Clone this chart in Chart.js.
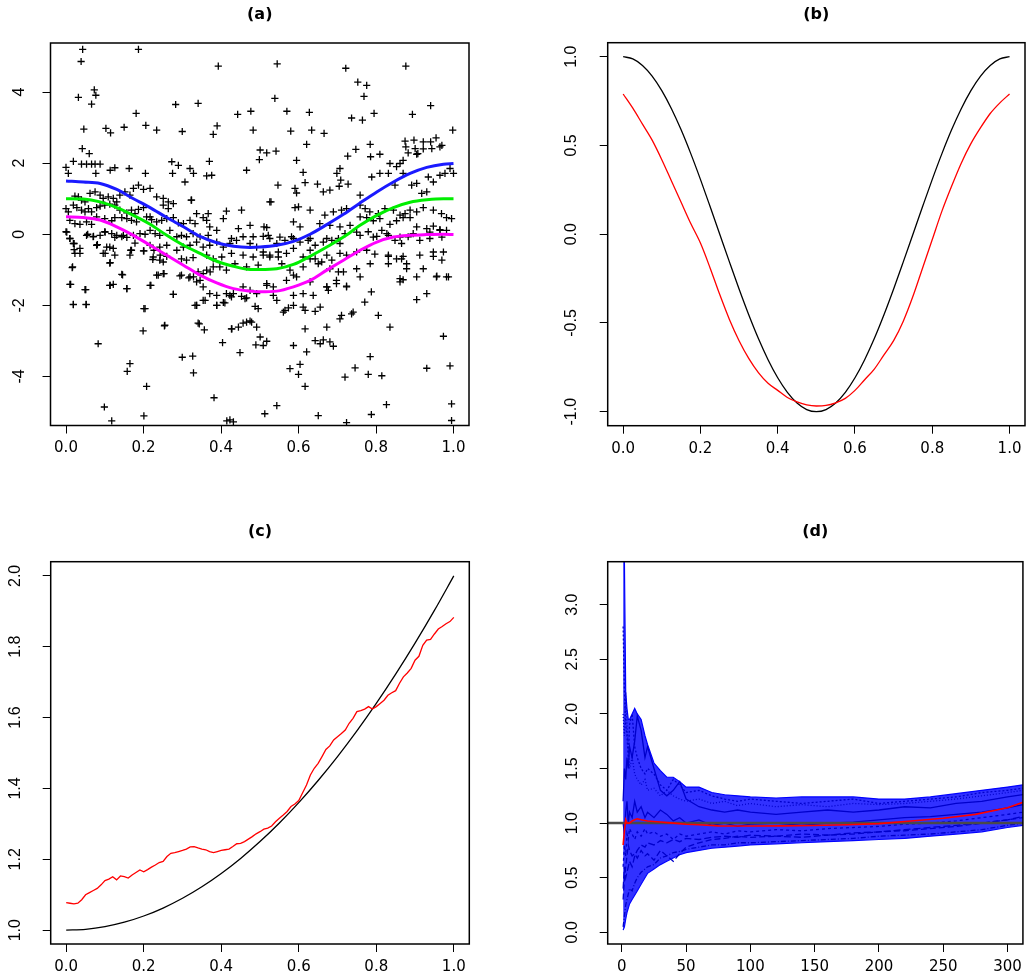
<!DOCTYPE html>
<html>
<head>
<meta charset="utf-8">
<script src="https://cdn.jsdelivr.net/npm/chart.js@4.4.1/dist/chart.umd.min.js"></script>
<style>
html, body { margin: 0; padding: 0; background: #fff; }
#wrap { position: relative; width: 1028px; height: 979px; overflow: hidden; }
canvas { position: absolute; }
</style>
</head>
<body>
<div id="wrap">
  <canvas id="pa" width="514" height="490" style="left:0;top:0;width:514px;height:490px"></canvas>
  <canvas id="pb" width="514" height="490" style="left:514px;top:0;width:514px;height:490px"></canvas>
  <canvas id="pc" width="514" height="489" style="left:0;top:490px;width:514px;height:489px"></canvas>
  <canvas id="pd" width="514" height="489" style="left:514px;top:490px;width:514px;height:489px"></canvas>
</div>
<script>
// ---- tick values ----
const unitTicks = [0, 0.2, 0.4, 0.6, 0.8, 1.0];
const aYTicks = [-4, -2, 0, 2, 4];
const bYTicks = [-1.0, -0.5, 0.0, 0.5, 1.0];
const cYTicks = [1.0, 1.2, 1.4, 1.6, 1.8, 2.0];
const dXTicks = [0, 50, 100, 150, 200, 250, 300];
const dYTicks = [0.0, 0.5, 1.0, 1.5, 2.0, 2.5, 3.0];

// ---- panel (a): observations (x, y) ----
const aPoints = [
  [0.043,5.20],[0.039,4.86],[0.187,5.20],[0.393,4.73],[0.073,4.06],[0.077,3.91],[0.032,3.85],[0.066,3.66],
  [0.181,3.40],[0.283,3.65],[0.341,3.68],[0.443,3.37],[0.477,3.46],[0.046,2.96],[0.103,2.98],[0.115,2.85],
  [0.150,3.01],[0.206,3.06],[0.234,2.93],[0.300,2.89],[0.390,3.05],[0.380,2.81],[0.483,2.93],[0.042,2.41],
  [0.060,2.27],[0.0,1.88],[0.019,2.05],[0.040,1.97],[0.053,1.97],[0.066,1.97],[0.075,1.97],[0.088,1.97],
  [0.006,1.71],[0.077,1.71],[0.114,1.80],[0.126,1.87],[0.163,1.85],[0.205,1.71],[0.273,2.04],[0.290,1.94],
  [0.275,1.71],[0.370,2.05],[0.320,1.85],[0.329,1.71],[0.363,1.64],[0.376,1.66],[0.307,1.47],[0.323,0.96],
  [0.466,1.80],[0.499,2.10],
  [0.023,1.07],[0.032,1.05],[0.040,0.96],[0.049,0.91],[0.062,1.15],[0.075,1.19],[0.088,1.10],[0.096,1.01],
  [0.109,1.05],[0.122,1.01],[0.131,0.91],[0.139,1.10],[0.152,1.19],[0.165,1.10],[0.174,1.29],[0.187,1.38],
  [0.200,1.26],[0.217,1.29],[0.0,0.72],[0.006,0.63],[0.019,0.82],[0.028,0.75],[0.040,0.68],[0.049,0.63],
  [0.058,0.72],[0.066,0.63],[0.079,0.75],[0.088,0.79],[0.100,0.82],[0.113,0.85],[0.126,0.82],[0.139,0.68],
  [0.157,0.60],[0.169,0.68],[0.178,0.58],[0.187,0.70],[0.200,0.75],[0.217,0.49],[0.234,1.05],[0.251,1.01],
  [0.264,0.91],[0.277,0.86],[0.251,0.82],[0.264,0.72],[0.324,0.96],[0.367,0.58],[0.337,0.58],[0.414,0.65],
  [0.453,0.68],[0.406,0.44],[0.445,0.16],[0.475,0.25],[0.483,-0.07],[0.457,-0.07],[0.427,-0.12],[0.010,0.39],
  [0.023,0.30],[0.036,0.28],[0.053,0.35],[0.066,0.28],[0.079,0.49],[0.100,0.44],[0.118,0.38],[0.126,0.47],
  [0.144,0.47],[0.157,0.44],[0.169,0.39],[0.182,0.35],[0.208,0.49],[0.221,0.41],[0.234,0.35],[0.247,0.39],
  [0.260,0.44],[0.277,0.47],[0.290,0.32],[0.303,0.30],[0.320,0.39],[0.333,0.30],[0.354,0.47],[0.363,0.39],
  [0.371,0.21],[0.389,0.11],[0.0,0.07],[0.010,-0.12],[0.053,-0.03],[0.070,-0.07],[0.088,-0.03],[0.100,0.07],
  [0.118,0.02],[0.131,-0.03],[0.144,-0.07],[0.157,-0.09],[0.174,-0.03],[0.191,0.02],[0.217,0.11],[0.230,0.02],
  [0.242,-0.03],[0.268,0.11],[0.286,-0.07],[0.298,-0.03],[0.311,-0.07],[0.328,0.02],[0.346,-0.07],[0.367,-0.03],
  [0.019,-0.26],[0.036,-0.40],[0.079,-0.31],[0.113,-0.36],[0.122,-0.40],[0.169,-0.45],[0.200,-0.47],[0.217,-0.31],
  [0.242,-0.36],[0.260,-0.31],[0.286,-0.45],[0.303,-0.36],[0.320,-0.31],[0.337,-0.22],[0.354,-0.36],[0.371,-0.31],
  [0.389,-0.22],[0.406,-0.36],[0.423,-0.26],[0.440,-0.17],[0.475,-0.26],[0.492,-0.36],[0.023,-0.54],[0.096,-0.54],
  [0.165,-0.59],[0.225,-0.64],[0.242,-0.73],[0.260,-0.62],[0.298,-0.69],[0.311,-0.73],[0.328,-0.66],[0.363,-0.59],
  [0.380,-0.69],[0.402,-0.64],[0.427,-0.54],[0.457,-0.59],[0.483,-0.64],[0.113,-0.81],[0.298,-1.15],[0.320,-1.20],
  [0.341,-1.06],[0.363,-1.01],[0.380,-0.92],[0.397,-0.92],[0.414,-1.01],[0.436,-0.83],[0.466,-0.92],[0.496,-0.87],
  [0.017,-0.92],[0.144,-1.13],[0.238,-1.15],[0.251,-1.11],[0.012,-1.41],[0.049,-1.56],[0.113,-1.44],[0.157,-1.53],
  [0.217,-1.44],[0.277,-1.69],[0.354,-1.48],[0.371,-1.67],[0.389,-1.72],[0.414,-1.67],[0.427,-1.76],[0.457,-1.48],
  [0.475,-1.58],[0.492,-1.67],[0.019,-1.97],[0.052,-1.97],[0.204,-2.09],[0.337,-2.00],[0.359,-1.86],[0.389,-2.00],
  [0.410,-1.93],[0.453,-1.75],[0.488,-2.03],[0.255,-2.56],[0.341,-2.50],[0.427,-2.66],[0.457,-2.50],[0.475,-2.44],
  [0.545,4.79],[0.722,4.67],[0.877,4.73],[0.753,4.28],[0.776,4.19],[0.539,3.82],[0.769,3.88],[0.941,3.62],
  [0.570,3.46],[0.628,3.43],[0.737,3.27],[0.765,3.21],[0.795,3.40],[0.894,3.37],[0.580,2.90],[0.634,2.93],
  [0.666,2.84],[0.998,2.93],[0.621,2.53],[0.501,2.37],[0.518,2.29],[0.542,2.34],[0.748,2.39],[0.785,2.53],
  [0.727,2.20],[0.786,2.18],[0.810,2.25],[0.595,2.08],[0.875,2.62],[0.898,2.65],[0.922,2.60],[0.941,2.60],
  [0.955,2.71],[0.970,2.50],[0.877,2.46],[0.901,2.41],[0.908,2.27],[0.922,2.40],[0.944,2.41],[0.965,2.46],
  [0.883,2.29],[0.905,2.25],[0.612,1.74],[0.699,1.71],[0.707,1.85],[0.547,1.38],[0.591,1.29],[0.595,1.16],
  [0.617,1.45],[0.649,1.41],[0.664,1.19],[0.681,1.24],[0.705,1.35],[0.709,1.52],[0.728,1.41],[0.759,1.10],
  [0.789,1.61],[0.810,1.71],[0.832,1.71],[0.836,1.99],[0.853,1.90],[0.862,1.99],[0.870,2.08],[0.849,1.38],
  [0.870,1.71],[0.892,1.38],[0.905,1.43],[0.918,1.15],[0.931,1.19],[0.935,1.61],[0.948,1.47],[0.965,1.66],
  [0.978,1.71],[0.991,1.85],[1.0,1.71],[0.529,0.91],[0.511,0.21],
  [0.526,0.91],[0.591,0.75],[0.600,0.77],[0.630,0.68],[0.668,0.54],[0.690,0.63],[0.711,0.68],[0.724,0.72],
  [0.759,0.82],[0.772,0.72],[0.784,0.63],[0.806,0.58],[0.823,0.72],[0.845,0.68],[0.862,0.54],[0.875,0.58],
  [0.888,0.68],[0.905,0.63],[0.922,0.75],[0.948,0.68],[0.969,0.58],[0.982,0.47],[0.995,0.44],[0.518,0.19],
  [0.587,0.35],[0.604,0.21],[0.655,0.30],[0.681,0.25],[0.707,0.21],[0.733,0.25],[0.759,0.49],[0.776,0.47],
  [0.793,0.38],[0.810,0.44],[0.836,0.28],[0.853,0.38],[0.870,0.47],[0.888,0.47],[0.905,0.21],[0.931,0.16],
  [0.948,0.23],[0.965,0.13],[0.982,0.11],
  [0.509,-0.06],[0.526,-0.12],[0.544,-0.26],[0.565,-0.17],[0.582,-0.07],[0.604,-0.22],[0.625,-0.17],[0.643,-0.31],
  [0.664,-0.22],[0.686,-0.17],[0.703,-0.12],[0.720,0.02],[0.759,-0.03],[0.780,0.07],[0.802,-0.06],[0.815,0.11],
  [0.832,-0.03],[0.849,-0.17],[0.866,-0.26],[0.883,-0.07],[0.913,-0.17],[0.939,-0.12],[0.965,0.11],[0.509,-0.50],
  [0.526,-0.59],[0.548,-0.64],[0.557,-0.83],[0.578,-1.01],[0.587,-1.15],[0.612,-0.92],[0.630,-0.69],[0.651,-0.83],
  [0.673,-0.59],[0.686,-0.73],[0.707,-0.54],[0.724,-0.59],[0.750,-0.50],[0.776,-0.45],[0.797,-0.56],[0.832,-0.62],
  [0.866,-0.69],[0.879,-0.97],[0.913,-0.59],[0.948,-0.50],[0.518,-1.39],[0.535,-1.48],[0.569,-1.30],[0.595,-1.20],
  [0.630,-1.34],[0.673,-1.48],[0.698,-1.30],[0.724,-1.46],[0.759,-1.20],[0.905,-1.20],[0.956,-1.20],[0.982,-1.20],
  [0.862,-1.34],
  [0.002,0.06],[0.056,0.0],[0.071,-0.06],[0.101,0.06],[0.126,-0.09],[0.148,-0.03],[0.178,-0.25],[0.204,0.0],
  [0.010,-0.12],[0.021,-0.26],[0.036,-0.54],[0.021,-0.43],[0.081,-0.29],[0.105,-0.36],[0.126,-0.59],[0.114,-0.80],
  [0.101,-0.54],[0.016,-0.94],[0.010,-1.41],[0.051,-1.56],[0.019,-1.98],[0.052,-1.98],[0.114,-1.44],[0.122,-1.41],
  [0.157,-1.53],[0.146,-1.14],[0.219,-1.44],[0.167,-0.45],[0.201,-0.47],[0.224,-0.71],[0.227,-0.45],[0.243,-0.59],
  [0.251,-0.78],[0.234,-1.15],[0.253,-1.11],[0.294,-1.17],[0.317,-1.23],[0.329,-1.20],[0.337,-1.34],[0.346,-1.30],
  [0.354,-1.11],[0.372,-1.06],[0.277,-1.69],[0.333,-2.00],[0.337,-2.00],[0.354,-1.86],[0.389,-2.00],[0.406,-1.92],
  [0.423,-1.72],[0.432,-1.67],[0.462,-1.81],[0.466,-1.79],[0.201,-2.09],[0.199,-2.72],[0.254,-2.58],[0.083,-3.08],
  [0.344,-2.52],[0.357,-2.69],[0.428,-2.66],[0.445,-2.61],[0.466,-2.47],[0.479,-2.47],[0.404,-3.05],[0.449,-3.33],
  [0.490,-3.11],[0.496,-2.09],[0.492,-2.61],[0.300,-3.46],[0.327,-3.43],[0.329,-3.90],[0.165,-3.64],[0.158,-3.86],
  [0.208,-4.28],[0.382,-4.60],[0.099,-4.86],[0.201,-5.11],[0.118,-5.25],[0.415,-5.25],[0.432,-5.28],[0.423,-5.22],
  [0.522,-0.03],[0.552,-0.08],[0.587,-0.12],[0.630,-0.12],[0.673,-0.12],[0.707,-0.26],[0.750,0.06],[0.793,-0.08],
  [0.828,0.02],[0.862,-0.08],[0.896,0.02],[0.939,0.06],[0.970,-0.08],[0.509,-0.59],[0.526,-0.64],[0.548,-0.50],
  [0.569,-0.54],[0.587,-0.40],[0.612,-0.64],[0.630,-0.45],[0.643,-0.69],[0.660,-0.78],[0.681,-0.97],[0.703,-1.06],
  [0.716,-1.06],[0.750,-0.97],[0.785,-0.83],[0.832,-0.59],[0.832,-0.83],[0.853,-0.69],[0.870,-0.62],[0.879,-0.83],
  [0.922,-0.97],[0.948,-0.62],[0.970,-0.73],[0.974,-0.50],[0.870,-1.28],[0.862,-1.25],[0.957,-1.18],[0.987,-1.20],
  [0.518,-1.44],[0.535,-1.72],[0.544,-1.86],[0.565,-2.14],[0.561,-2.19],[0.574,-2.07],[0.587,-1.72],[0.612,-2.05],
  [0.617,-2.14],[0.643,-2.17],[0.656,-2.05],[0.673,-1.48],[0.677,-1.58],[0.698,-1.39],[0.724,-1.48],[0.788,-1.62],
  [0.771,-1.91],[0.741,-2.19],[0.737,-2.24],[0.707,-2.38],[0.711,-2.28],[0.617,-2.66],[0.673,-2.61],[0.806,-2.28],
  [0.836,-2.61],[0.905,-1.84],[0.931,-1.67],[0.612,-1.67],[0.638,-1.72],[0.587,-2.00],[0.643,-2.99],[0.656,-3.08],
  [0.664,-2.97],[0.681,-3.03],[0.690,-3.15],[0.587,-3.13],[0.621,-3.31],[0.501,-2.89],[0.518,-3.01],[0.509,-3.13],
  [0.785,-3.44],[0.974,-2.87],[0.578,-3.78],[0.604,-3.66],[0.600,-3.94],[0.617,-4.28],[0.720,-4.02],[0.746,-3.76],
  [0.780,-3.94],[0.815,-3.98],[0.931,-3.77],[0.991,-3.70],[0.827,-4.79],[0.544,-4.82],[0.513,-5.05],[0.651,-5.10],
  [0.788,-5.07],[0.995,-4.77],[0.995,-5.24],[0.724,-5.30]
];

// ---- panel (a): fitted curves ----
const aCurveX = [0, 0.045, 0.088, 0.131, 0.174, 0.217, 0.26, 0.303, 0.346, 0.389, 0.432, 0.475, 0.501,
                 0.544, 0.587, 0.630, 0.673, 0.716, 0.759, 0.802, 0.845, 0.888, 0.931, 0.974, 1.0];
const aBlue    = [1.50, 1.47, 1.43, 1.26, 1.00, 0.75, 0.47, 0.21, -0.06, -0.24, -0.34, -0.37, -0.36,
                  -0.31, -0.20, 0.00, 0.27, 0.56, 0.88, 1.19, 1.47, 1.71, 1.88, 1.97, 1.99];
const aGreen   = [1.00, 0.99, 0.91, 0.75, 0.53, 0.28, -0.03, -0.31, -0.54, -0.76, -0.90, -0.99, -0.99,
                  -0.97, -0.85, -0.62, -0.36, -0.08, 0.25, 0.53, 0.75, 0.90, 0.97, 1.00, 1.00];
const aMagenta = [0.49, 0.47, 0.40, 0.21, -0.03, -0.31, -0.59, -0.87, -1.15, -1.37, -1.53, -1.60, -1.62,
                  -1.60, -1.48, -1.30, -1.01, -0.73, -0.45, -0.22, -0.08, -0.03, -0.01, 0.00, -0.01];

// ---- panel (b) ----
const bX = [0, 0.025, 0.05, 0.075, 0.1, 0.125, 0.15, 0.175, 0.2, 0.225, 0.25, 0.275, 0.3, 0.325, 0.35,
            0.375, 0.4, 0.425, 0.45, 0.475, 0.5, 0.525, 0.55, 0.575, 0.6, 0.625, 0.65, 0.675, 0.7,
            0.725, 0.75, 0.775, 0.8, 0.825, 0.85, 0.875, 0.9, 0.925, 0.95, 0.975, 1.0];
const bTrue = [1.000, 0.988, 0.951, 0.891, 0.809, 0.707, 0.588, 0.454, 0.309, 0.156, 0.000, -0.156,
               -0.309, -0.454, -0.588, -0.707, -0.809, -0.891, -0.951, -0.988, -1.000, -0.988, -0.951,
               -0.891, -0.809, -0.707, -0.588, -0.454, -0.309, -0.156, 0.000, 0.156, 0.309, 0.454,
               0.588, 0.707, 0.809, 0.891, 0.951, 0.988, 1.000];
const bEst = [0.79, 0.71, 0.62, 0.53, 0.42, 0.30, 0.18, 0.06, -0.05, -0.19, -0.34, -0.48, -0.60,
              -0.70, -0.78, -0.84, -0.88, -0.92, -0.945, -0.962, -0.968, -0.965, -0.95, -0.925,
              -0.88, -0.82, -0.76, -0.68, -0.60, -0.49, -0.35, -0.19, -0.03, 0.13, 0.27, 0.40,
              0.51, 0.60, 0.68, 0.74, 0.79];

// ---- panel (c) ----
const cTrueX = [0, 0.05, 0.1, 0.15, 0.2, 0.25, 0.3, 0.35, 0.4, 0.45, 0.5, 0.55, 0.6, 0.65, 0.7,
                0.75, 0.8, 0.85, 0.9, 0.95, 1.0];
const cTrue = [1.000, 1.0025, 1.010, 1.0225, 1.040, 1.0625, 1.090, 1.1225, 1.160, 1.2025, 1.250,
               1.3025, 1.360, 1.4225, 1.490, 1.5625, 1.640, 1.7225, 1.810, 1.9025, 2.000];
const cEstX = [0, 0.01, 0.02, 0.03, 0.04, 0.05, 0.06, 0.07, 0.08, 0.09, 0.1, 0.11, 0.12, 0.13, 0.14,
               0.15, 0.16, 0.17, 0.18, 0.19, 0.2, 0.21, 0.22, 0.23, 0.24, 0.25, 0.26, 0.27, 0.28, 0.29,
               0.3, 0.31, 0.32, 0.33, 0.34, 0.35, 0.36, 0.37, 0.38, 0.39, 0.4, 0.41, 0.42, 0.43, 0.44,
               0.45, 0.46, 0.47, 0.48, 0.49, 0.5, 0.51, 0.52, 0.53, 0.54, 0.55, 0.56, 0.57, 0.58, 0.59,
               0.6, 0.61, 0.62, 0.63, 0.64, 0.65, 0.66, 0.67, 0.68, 0.69, 0.7, 0.71, 0.72, 0.73, 0.74,
               0.75, 0.76, 0.77, 0.78, 0.79, 0.8, 0.81, 0.82, 0.83, 0.84, 0.85, 0.86, 0.87, 0.88, 0.89,
               0.9, 0.91, 0.92, 0.93, 0.94, 0.95, 0.96, 0.97, 0.98, 0.99, 1.0];
const cEst = [1.078, 1.076, 1.074, 1.076, 1.086, 1.100, 1.106, 1.112, 1.118, 1.128,
              1.140, 1.144, 1.151, 1.142, 1.153, 1.151, 1.147, 1.156, 1.163, 1.170,
              1.165, 1.171, 1.178, 1.184, 1.191, 1.194, 1.208, 1.217, 1.219, 1.222,
              1.225, 1.229, 1.235, 1.236, 1.232, 1.229, 1.227, 1.222, 1.219, 1.222,
              1.225, 1.227, 1.229, 1.236, 1.244, 1.245, 1.250, 1.257, 1.264, 1.272,
              1.278, 1.285, 1.288, 1.294, 1.306, 1.316, 1.325, 1.335, 1.349, 1.356,
              1.366, 1.388, 1.410, 1.438, 1.457, 1.471, 1.490, 1.510, 1.520, 1.537,
              1.546, 1.555, 1.565, 1.584, 1.598, 1.617, 1.620, 1.624, 1.631, 1.624,
              1.631, 1.640, 1.649, 1.663, 1.670, 1.676, 1.697, 1.715, 1.726, 1.739,
              1.762, 1.773, 1.804, 1.819, 1.821, 1.836, 1.850, 1.857, 1.865, 1.871, 1.883];

// ---- panel (d) ----
const dX = [1, 2, 3, 4, 5, 6, 8, 10, 12, 15, 18, 20, 25, 30, 35, 40, 45, 50, 60, 70, 80, 90, 100,
            120, 140, 160, 180, 200, 220, 240, 260, 280, 300, 312];
const dBandHi = [3.40, 3.40, 2.20, 2.05, 1.95, 1.95, 2.00, 2.05, 2.00, 1.95, 1.80, 1.72, 1.55, 1.48,
                 1.42, 1.42, 1.38, 1.33, 1.33, 1.28, 1.26, 1.25, 1.24, 1.23, 1.24, 1.24, 1.24, 1.22,
                 1.22, 1.24, 1.27, 1.30, 1.33, 1.35];
const dBandLo = [0.02, 0.05, 0.12, 0.18, 0.22, 0.26, 0.30, 0.34, 0.38, 0.44, 0.50, 0.54, 0.58, 0.62,
                 0.65, 0.68, 0.71, 0.73, 0.75, 0.77, 0.78, 0.79, 0.80, 0.81, 0.82, 0.83, 0.84, 0.85,
                 0.86, 0.88, 0.90, 0.92, 0.96, 0.98];
const dRuns = [
  [1.20, 1.50, 1.40, 1.60, 1.50, 1.70, 1.60, 1.75, 1.98, 1.85, 1.60, 1.70, 1.50, 1.30, 1.25, 1.30, 1.38,
   1.22, 1.15, 1.12, 1.10, 1.12, 1.10, 1.08, 1.10, 1.12, 1.10, 1.12, 1.15, 1.14, 1.18, 1.20, 1.24, 1.26],
  [0.30, 0.50, 0.60, 0.70, 0.80, 0.75, 0.70, 0.72, 0.68, 0.75, 0.70, 0.72, 0.66, 0.75, 0.70, 0.65, 0.72,
   0.78, 0.82, 0.85, 0.86, 0.88, 0.87, 0.88, 0.90, 0.89, 0.90, 0.92, 0.93, 0.95, 0.97, 1.00, 1.03, 1.05],
  [2.80, 2.20, 1.90, 1.80, 1.60, 1.90, 2.00, 1.70, 1.60, 1.50, 1.45, 1.50, 1.45, 1.35, 1.30, 1.40, 1.35,
   1.28, 1.30, 1.25, 1.22, 1.20, 1.22, 1.20, 1.18, 1.20, 1.22, 1.18, 1.20, 1.22, 1.24, 1.28, 1.30, 1.32],
  [0.05, 0.15, 0.25, 0.30, 0.35, 0.40, 0.38, 0.45, 0.50, 0.55, 0.58, 0.60, 0.62, 0.68, 0.70, 0.73, 0.74,
   0.76, 0.78, 0.80, 0.80, 0.82, 0.82, 0.83, 0.84, 0.85, 0.86, 0.88, 0.89, 0.90, 0.92, 0.94, 0.98, 1.00],
  [1.00, 0.90, 1.10, 1.20, 1.00, 1.10, 1.05, 1.20, 1.10, 1.15, 1.05, 1.10, 1.05, 1.12, 1.08, 1.02, 1.05,
   1.00, 1.03, 0.98, 1.00, 0.97, 0.99, 1.00, 0.98, 1.00, 1.01, 1.03, 1.05, 1.06, 1.08, 1.10, 1.14, 1.17],
  [0.60, 0.80, 0.70, 0.90, 0.85, 0.95, 0.90, 0.85, 0.92, 0.88, 0.95, 0.90, 0.92, 0.88, 0.90, 0.85, 0.90,
   0.88, 0.90, 0.92, 0.90, 0.93, 0.92, 0.94, 0.93, 0.95, 0.96, 0.97, 0.99, 1.00, 1.02, 1.05, 1.08, 1.10],
  [2.00, 1.80, 2.20, 1.90, 1.70, 1.50, 1.60, 1.45, 1.40, 1.35, 1.40, 1.30, 1.32, 1.25, 1.30, 1.25, 1.22,
   1.20, 1.22, 1.18, 1.20, 1.16, 1.18, 1.15, 1.17, 1.15, 1.18, 1.17, 1.18, 1.20, 1.22, 1.25, 1.28, 1.30],
  [0.40, 0.60, 0.50, 0.55, 0.60, 0.65, 0.60, 0.70, 0.75, 0.80, 0.78, 0.82, 0.80, 0.84, 0.82, 0.85, 0.83,
   0.86, 0.85, 0.87, 0.88, 0.87, 0.89, 0.88, 0.87, 0.89, 0.91, 0.92, 0.94, 0.96, 0.98, 1.00, 1.03, 1.06]
];
const dRunDash = [[], [6, 3], [2, 2], [5, 2, 1, 2], [], [3, 3], [1, 2], [7, 3]];
const dMeanX = [1, 2, 3, 4, 6, 8, 10, 12, 15, 20, 25, 30, 40, 50, 60, 75, 100, 125, 150, 175, 200,
                225, 250, 275, 300, 312];
const dMean = [0.80, 0.93, 1.03, 1.00, 1.00, 1.02, 1.03, 1.04, 1.03, 1.02, 1.015, 1.01, 1.00, 0.99,
               0.985, 0.975, 0.973, 0.975, 0.978, 0.985, 0.995, 1.02, 1.045, 1.08, 1.14, 1.19];
const dRefX = [-11, 312];
const dRef = [1, 1];

function pairs(xs, ys) {
    return xs.map(function (x, i) { return {x: x, y: ys[i]}; });
}

const boxPlugin = {
    id: 'box',
    afterDraw: function (chart) {
        const a = chart.chartArea;
        const ctx = chart.ctx;
        ctx.save();
        ctx.strokeStyle = '#000';
        ctx.lineWidth = 1.5;
        ctx.strokeRect(a.left, a.top, a.right - a.left, a.bottom - a.top);
        ctx.restore();
    }
};

function xAxis(min, max, ticks, height, fmt) {
    return {
        type: 'linear', min: min, max: max,
        afterFit: function (s) { s.height = height; },
        afterBuildTicks: function (s) { s.ticks = ticks.map(function (v) { return {value: v}; }); },
        border: {display: false},
        grid: {drawOnChartArea: false, tickLength: 8, color: '#000', lineWidth: 1},
        ticks: {autoSkip: false, maxRotation: 0, padding: 6, color: '#000',
                font: {family: 'DejaVu Sans', size: 15}, callback: fmt}
    };
}

function yAxis(min, max, ticks, width, pad, fmt) {
    return {
        type: 'linear', min: min, max: max,
        afterFit: function (s) { s.width = width; },
        afterBuildTicks: function (s) { s.ticks = ticks.map(function (v) { return {value: v}; }); },
        border: {display: false},
        grid: {drawOnChartArea: false, tickLength: 8, color: '#000', lineWidth: 1},
        ticks: {autoSkip: false, minRotation: 90, maxRotation: 90, crossAlign: 'center', padding: pad,
                color: '#000', font: {family: "'Liberation Sans Narrow', 'Liberation Sans', Arial", size: 16},
                callback: fmt}
    };
}

const oneDec = function (v) { return Number(v).toFixed(1); };
const plain = function (v) { return String(v); };

function makePanel(id, title, titlePad, rightPad, datasets, scales) {
    return new Chart(document.getElementById(id), {
        type: 'line',
        data: {datasets: datasets},
        options: {
            responsive: false,
            animation: false,
            events: [],
            layout: {padding: {left: 0, top: 0, right: rightPad, bottom: 0}},
            plugins: {
                legend: {display: false},
                tooltip: {enabled: false},
                title: {display: true, text: title, fullSize: false, color: '#000',
                        font: {family: 'DejaVu Sans', size: 16, weight: 'bold'}, padding: titlePad}
            },
            scales: scales
        },
        plugins: [boxPlugin]
    });
}

// (a)
makePanel('pa', '(a)', {top: 5, bottom: 18.8}, 45, [
    {data: pairs(aCurveX, aBlue), borderColor: '#1a1aff', borderWidth: 3, pointRadius: 0,
     cubicInterpolationMode: 'monotone', order: 1},
    {data: pairs(aCurveX, aGreen), borderColor: '#00ee00', borderWidth: 3, pointRadius: 0,
     cubicInterpolationMode: 'monotone', order: 1},
    {data: pairs(aCurveX, aMagenta), borderColor: '#ff00ff', borderWidth: 3, pointRadius: 0,
     cubicInterpolationMode: 'monotone', order: 1},
    {data: aPoints.map(function (p) { return {x: p[0], y: p[1]}; }), showLine: false,
     pointStyle: 'cross', pointRadius: 3.6, pointBorderWidth: 1.3, pointBorderColor: '#000',
     borderColor: '#000', order: 5}
], {
    x: xAxis(-0.04, 1.04, unitTicks, 64.5, oneDec),
    y: yAxis(-5.38, 5.38, aYTicks, 50.5, 15.7, plain)
});

// (b)
makePanel('pb', '(b)', {top: 5, bottom: 18.5}, 3, [
    {data: pairs(bX, bEst), borderColor: '#ff0000', borderWidth: 1.3, pointRadius: 0,
     cubicInterpolationMode: 'monotone', order: 1},
    {data: pairs(bX, bTrue), borderColor: '#000', borderWidth: 1.3, pointRadius: 0,
     cubicInterpolationMode: 'monotone', order: 2}
], {
    x: xAxis(-0.04, 1.04, unitTicks, 64.3, oneDec),
    y: yAxis(-1.079, 1.079, bYTicks, 93.7, 14.2, oneDec)
});

// (c)
makePanel('pc', '(c)', {top: 32.1, bottom: 20.4}, 44.7, [
    {data: pairs(cEstX, cEst), borderColor: '#ff0000', borderWidth: 1.3, pointRadius: 0, order: 1},
    {data: pairs(cTrueX, cTrue), borderColor: '#000', borderWidth: 1.3, pointRadius: 0,
     cubicInterpolationMode: 'monotone', order: 2}
], {
    x: xAxis(-0.04, 1.04, unitTicks, 35, oneDec),
    y: yAxis(0.961, 2.04, cYTicks, 50.7, 15.9, oneDec)
});

// (d)
const dDatasets = [
    {data: pairs(dMeanX, dMean), borderColor: '#ff0000', borderWidth: 1.6, pointRadius: 0, order: 0},
    {data: pairs(dRefX, dRef), borderColor: '#4a4a4a', borderWidth: 2.5, pointRadius: 0, order: 1}
];
dRuns.forEach(function (run, i) {
    dDatasets.push({data: pairs(dX, run), borderColor: '#0000cc', borderWidth: 1.3, pointRadius: 0,
                    borderDash: dRunDash[i], order: 2});
});
dDatasets.push({data: pairs(dX, dBandHi), borderColor: '#0000ff', borderWidth: 1.2,
                pointRadius: 0, fill: '+1', backgroundColor: 'rgba(10,10,255,0.84)', order: 3});
dDatasets.push({data: pairs(dX, dBandLo), borderColor: '#0000ff', borderWidth: 1.2,
                pointRadius: 0, fill: false, order: 3});

makePanel('pd', '(d)', {top: 32.1, bottom: 20.4}, 2.3, dDatasets, {
    x: xAxis(-11, 312, dXTicks, 35, plain),
    y: yAxis(-0.107, 3.394, dYTicks, 93.7, 15.9, oneDec)
});
</script>
</body>
</html>
